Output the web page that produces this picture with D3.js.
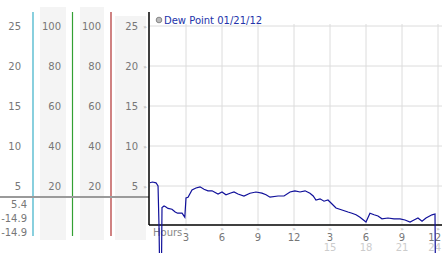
<!DOCTYPE html>
<html>
<head>
<meta charset="utf-8">
<script src="https://cdn.jsdelivr.net/npm/d3@7"></script>
<style>
  html, body { margin: 0; padding: 0; background: #fff; }
  svg { display: block; }
  text { font-family: "DejaVu Sans", Verdana, sans-serif; }
</style>
</head>
<body>
<script>
const width = 442, height = 253;

// dew point readings, hours since midnight
const hours = [0, 0.2, 0.5, 0.67, 0.75, 0.9, 1.0, 1.17, 1.3, 1.5, 1.83, 2.1, 2.3, 2.67, 2.9,
  3.0, 3.17, 3.5, 3.83, 4.17, 4.5, 4.83, 5.17, 5.67, 6.0, 6.33, 6.67, 7.0, 7.33, 7.83,
  8.33, 8.83, 9.33, 9.67, 10.0, 10.67, 11.17, 11.67, 12.08, 12.5, 12.92, 13.33, 13.6,
  13.83, 14.17, 14.5, 14.83, 15.17, 15.5, 16.0, 16.5, 16.83, 17.17, 17.5, 18.0, 18.33,
  18.67, 19.0, 19.33, 19.83, 20.33, 20.83, 21.25, 21.67, 22.0, 22.33, 22.67, 23.0,
  23.5, 23.75, 23.83];
const dewPoint = [5.4, 5.5, 5.4, 5.0, 0.1, -14.9, 2.3, 2.5, 2.4, 2.2, 2.1, 1.75, 1.6, 1.6, 1.1,
  3.5, 3.6, 4.5, 4.75, 4.9, 4.6, 4.4, 4.4, 4.0, 4.25, 3.9, 4.1, 4.25, 4.0, 3.75,
  4.1, 4.25, 4.1, 3.9, 3.6, 3.75, 3.75, 4.25, 4.4, 4.25, 4.4, 4.1, 3.75,
  3.25, 3.4, 3.1, 3.25, 2.75, 2.25, 2.0, 1.75, 1.6, 1.4, 1.1, 0.5, 1.6,
  1.4, 1.25, 0.9, 1.0, 0.9, 0.9, 0.75, 0.5, 0.75, 1.0, 0.6, 1.0,
  1.4, 1.5, -14.9];

const tempTicks = [25, 20, 15, 10, 5];
const humidityTicks = [100, 80, 60, 40, 20];
const hourTicks = [3, 6, 9, 12, 15, 18, 21, 24];
const hourLabels = ["3", "6", "9", "12", "3", "6", "9", "12"];
const hourLabels24 = ["", "", "", "", "15", "18", "21", "24"];
const summaryLabels = ["5.4", "-14.9", "-14.9"];
const legendLabel = "Dew Point 01/21/12";

const svg = d3.select('body').append('svg')
  .attr('width', width).attr('height', height);

const x = d3.scaleLinear().domain([0, 24]).range([150, 438]);
const y = d3.scaleLinear().domain([0, 25]).range([226, 26]);
const yHum = d3.scaleLinear().domain([0, 100]).range([226, 26]);

// left panel shaded columns
[[40, 7, 26], [80, 7, 24], [115, 16, 31]].forEach(([cx, cy, w]) => {
  svg.append('rect').attr('x', cx).attr('y', cy).attr('width', w).attr('height', 240 - cy)
    .attr('fill', '#f4f4f4');
});

// colored column separators
[[33, '#3ab0c8'], [72.5, '#33a033'], [111, '#b03030']].forEach(([lx, c]) => {
  svg.append('line').attr('x1', lx).attr('x2', lx).attr('y1', 12).attr('y2', 236)
    .attr('stroke', c).attr('stroke-width', 1.2);
});

// current value separator
svg.append('line').attr('x1', 0).attr('x2', 149).attr('y1', 197).attr('y2', 197)
  .attr('stroke', '#9a9a9a').attr('stroke-width', 2);

const lbl = (g, data, xr, scale) => g.selectAll(null).data(data).join('text')
  .attr('x', xr).attr('y', d => scale(d) + 4)
  .attr('text-anchor', 'end').attr('font-size', 10).attr('fill', '#777')
  .text(d => d);

lbl(svg.append('g'), tempTicks, 21, y);
lbl(svg.append('g'), humidityTicks, 61, yHum);
lbl(svg.append('g'), humidityTicks, 101, yHum);
lbl(svg.append('g'), tempTicks, 138, y);

svg.append('g').selectAll('text').data(tempTicks).join('text')
  .attr('x', 145).attr('y', d => y(d) + 3)
  .attr('text-anchor', 'middle').attr('font-size', 6).attr('fill', '#999')
  .text('»');

svg.append('g').selectAll('text').data(summaryLabels).join('text')
  .attr('x', 27).attr('y', (d, i) => 208 + i * 14)
  .attr('text-anchor', 'end').attr('font-size', 10).attr('fill', '#777')
  .text(d => d);

// grid
svg.append('g').selectAll('line').data(tempTicks).join('line')
  .attr('x1', 149).attr('x2', width).attr('y1', d => y(d)).attr('y2', d => y(d))
  .attr('stroke', '#dcdcdc');
svg.append('g').selectAll('line').data(hourTicks).join('line')
  .attr('x1', d => x(d)).attr('x2', d => x(d)).attr('y1', 24).attr('y2', 225)
  .attr('stroke', '#dcdcdc');

// axes
svg.append('line').attr('x1', 149).attr('x2', width).attr('y1', 225).attr('y2', 225)
  .attr('stroke', '#000').attr('stroke-width', 1.3);
svg.append('line').attr('x1', 149).attr('x2', 149).attr('y1', 12).attr('y2', 225)
  .attr('stroke', '#000').attr('stroke-width', 1.5);

// x labels (the last one is pulled inside the right edge)
const lastTick = hourTicks.length - 1;
const tx = (d, i) => i === lastTick ? width - 1 : x(d);
const ta = (d, i) => i === lastTick ? 'end' : 'middle';

svg.append('text').attr('x', 153).attr('y', 236).attr('font-size', 10).attr('fill', '#888')
  .text('Hours');
svg.append('g').selectAll('text').data(hourTicks).join('text')
  .attr('x', d => x(d)).attr('y', 231)
  .attr('text-anchor', 'middle').attr('font-size', 6).attr('fill', '#999')
  .text('»');
svg.append('g').selectAll('text').data(hourTicks).join('text')
  .attr('x', tx).attr('y', 241)
  .attr('text-anchor', ta).attr('font-size', 10).attr('fill', '#777')
  .text((d, i) => hourLabels[i]);
svg.append('g').selectAll('text').data(hourTicks).join('text')
  .attr('x', tx).attr('y', 251)
  .attr('text-anchor', ta).attr('font-size', 10).attr('fill', '#ccc')
  .text((d, i) => hourLabels24[i]);

// series
const line = d3.line().x(d => x(d[0])).y(d => y(d[1]));
svg.append('path').datum(d3.zip(hours, dewPoint))
  .attr('d', line).attr('fill', 'none')
  .attr('stroke', '#10109a').attr('stroke-width', 1.2);

// legend
svg.append('circle').attr('cx', 159).attr('cy', 20).attr('r', 2.8)
  .attr('fill', '#bbb').attr('stroke', '#888');
svg.append('text').attr('x', 164).attr('y', 24).attr('font-size', 10).attr('fill', '#2233aa')
  .text(legendLabel);
</script>
</body>
</html>
